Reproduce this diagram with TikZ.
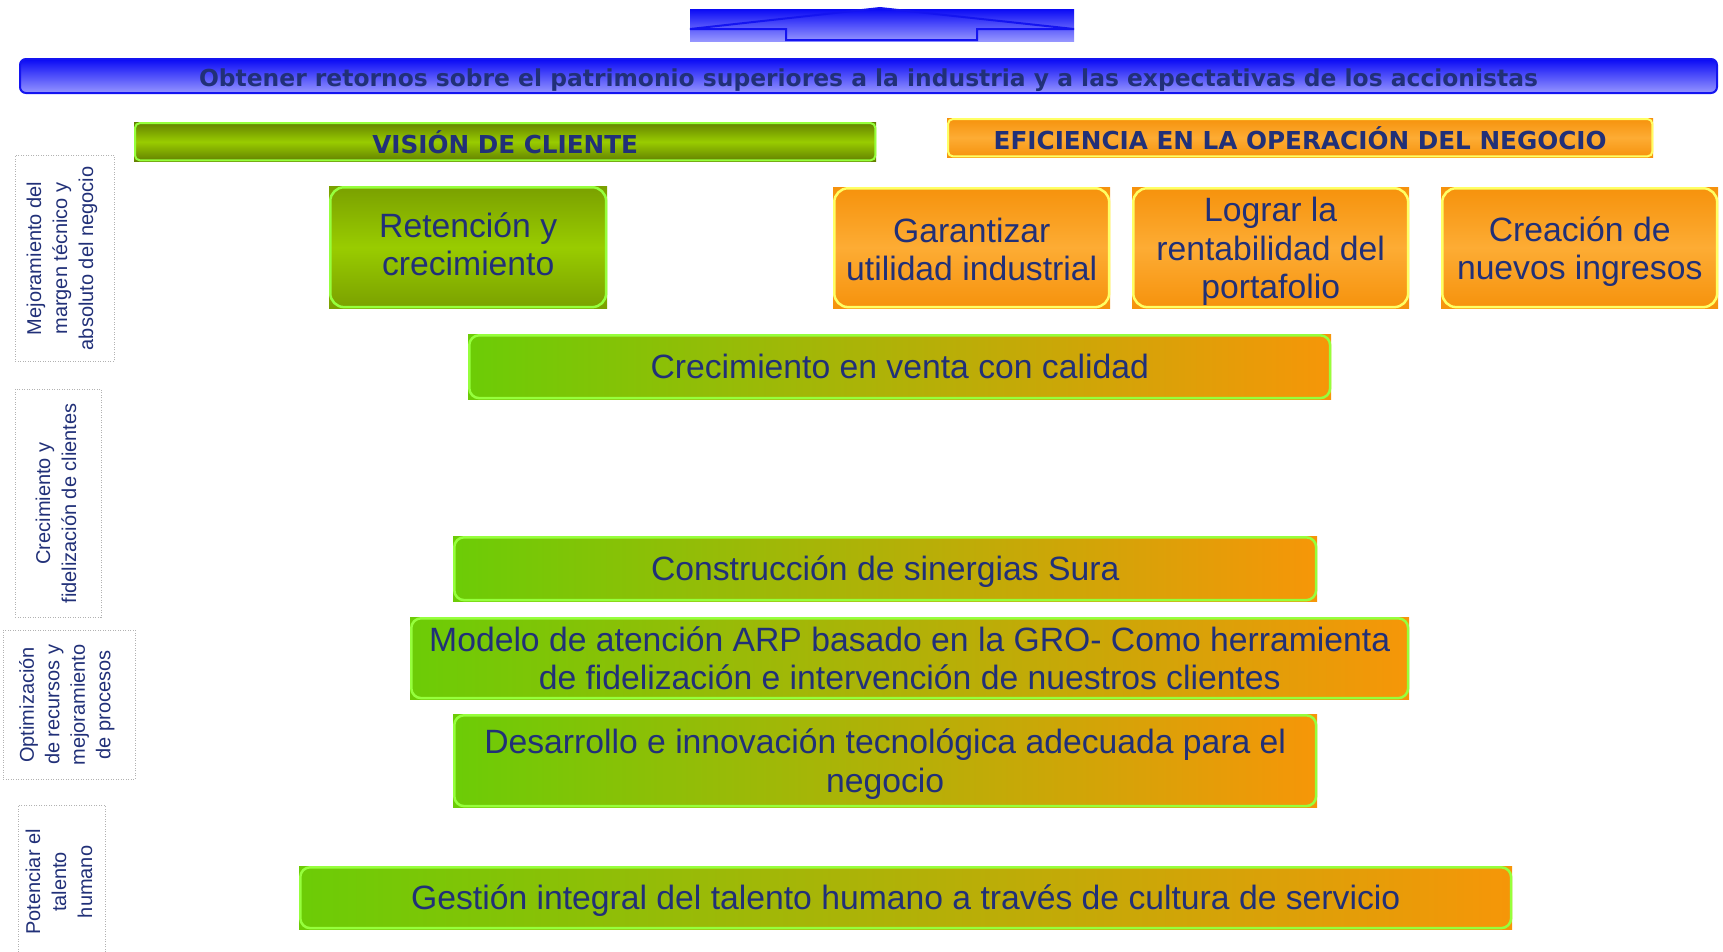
\documentclass[tikz,border=0pt]{standalone}
\usepackage{fontspec}
\setmainfont{Liberation Sans}
\newfontfamily\hdfont{DejaVu Sans}
\definecolor{navy}{RGB}{33,48,120}
\definecolor{gdark}{RGB}{122,160,0}
\definecolor{glight}{RGB}{153,204,0}
\definecolor{hgdark}{RGB}{98,128,0}
\definecolor{odark}{RGB}{246,146,12}
\definecolor{olight}{RGB}{253,172,52}
\definecolor{hl}{RGB}{108,204,6}
\definecolor{hr}{RGB}{246,150,8}
\definecolor{lgreen}{RGB}{150,255,60}
\definecolor{lyellow}{RGB}{255,255,100}
\definecolor{bdark}{RGB}{10,10,245}
\definecolor{blight}{RGB}{150,150,255}
\definecolor{bline}{RGB}{20,20,240}
\tikzset{
  box/.style={anchor=north west, inner sep=0pt},
  txt/.style={inner sep=0pt, align=center, text=navy,
    font=\fontsize{33.7}{38.5}\selectfont},
  gbox/.style={box, top color=gdark, bottom color=gdark, middle color=glight},
  obox/.style={box, top color=odark, bottom color=odark, middle color=olight},
  hbox/.style={box, left color=hl, right color=hr},
  gframe/.style={draw=lgreen, line width=2.5pt, rounded corners=14pt},
  oframe/.style={draw=lyellow, line width=2.5pt, rounded corners=14pt},
  hframe/.style={draw=lgreen, line width=2.5pt, rounded corners=10pt},
  lab/.style={draw=gray!60, line width=0.9pt, dash pattern=on 1pt off 1.5pt,
    inner sep=0pt},
  labtxt/.style={inner sep=0pt, align=center, text=navy, rotate=90,
    font=\fontsize{20}{26}\selectfont},
  headtxt/.style={inner sep=0pt, text=navy, font=\hdfont\bfseries\fontsize{24.7}{28}\selectfont}
}
\begin{document}
\begin{tikzpicture}[x=1pt,y=-1pt]
\useasboundingbox (0,0) rectangle (1723,951);

% top arrow
\shade[top color=bdark, bottom color=blight] (690,9) rectangle (1074,41);
\draw[bline, line width=2pt, line join=miter]
  (690,29) -- (786,29) -- (786,40) -- (977,40) -- (977,29) -- (1074,29) -- (880,8) -- cycle;

% banner
\node[anchor=north west, minimum width=1697, minimum height=34, inner sep=0pt,
  top color=bdark, bottom color=blight, draw=bline, line width=2pt, rounded corners=6pt] (ban) at (19,58) {};
\node[headtxt, font=\hdfont\bfseries\fontsize{23.4}{28}\selectfont] (bant) at ([yshift=-4]ban.center)
  {Obtener retornos sobre el patrimonio superiores a la industria y a las expectativas de los accionistas};

% headers
\node[anchor=north west, minimum width=742, minimum height=39, inner sep=0pt,
  top color=hgdark, bottom color=hgdark, middle color=glight] (vis) at (134,122) {};
\draw[draw=lgreen, line width=2pt, rounded corners=5pt]
  ([shift={(1,1)}]vis.north west) rectangle ([shift={(-1,-1)}]vis.south east);
\node[headtxt] (vist) at ([yshift=-1]vis.center) {VISIÓN DE CLIENTE};
\node[anchor=north west, minimum width=706, minimum height=39, inner sep=0pt,
  top color=odark, bottom color=odark, middle color=olight] (efi) at (947,118) {};
\draw[draw=lyellow, line width=2pt, rounded corners=5pt]
  ([shift={(1,1)}]efi.north west) rectangle ([shift={(-1,-1)}]efi.south east);
\node[headtxt] (efit) at ([yshift=-1]efi.center) {EFICIENCIA EN LA OPERACIÓN DEL NEGOCIO};

% top boxes
\node[gbox, minimum width=278, minimum height=122] (ret) at (329,186) {};
\node[obox, minimum width=277, minimum height=121] (gar) at (833,187) {};
\node[obox, minimum width=277, minimum height=121] (log) at (1132,187) {};
\node[obox, minimum width=277, minimum height=121] (cre) at (1441,187) {};
\draw[gframe] ([shift={(1.25,1.25)}]ret.north west) rectangle ([shift={(-1.25,-1.25)}]ret.south east);
\foreach \n in {gar,log,cre}
  \draw[oframe] ([shift={(1.25,1.25)}]\n.north west) rectangle ([shift={(-1.25,-1.25)}]\n.south east);
\node[txt] (rett) at ([yshift=3]ret.center) {Retención y\\crecimiento};
\node[txt] (gart) at ([yshift=-1.5]gar.center) {Garantizar\\utilidad industrial};
\node[txt] (logt) at ([yshift=-4]log.center) {Lograr la\\rentabilidad del\\portafolio};
\node[txt] (cret) at ([yshift=-4]cre.center) {Creación de\\nuevos ingresos};

% horizontal boxes
\node[hbox, minimum width=863, minimum height=65] (cv) at (468,334) {};
\node[hbox, minimum width=864, minimum height=65] (cs) at (453,536) {};
\node[hbox, minimum width=999, minimum height=82] (ma) at (410,617) {};
\node[hbox, minimum width=864, minimum height=93] (di) at (453,714) {};
\node[hbox, minimum width=1213, minimum height=63] (gi) at (299,866) {};
\foreach \n in {cv,cs,ma,di,gi}
  \draw[hframe] ([shift={(1.25,1.25)}]\n.north west) rectangle ([shift={(-1.25,-1.25)}]\n.south east);
\node[txt] (cvt) at (cv.center) {Crecimiento en venta con calidad};
\node[txt] (cst) at ([yshift=-3.3]cs.center) {Construcción de sinergias Sura};
\node[txt] (mat) at (ma.center)
  {Modelo de atención ARP basado en la GRO- Como herramienta\\de fidelización e intervención de nuestros clientes};
\node[txt] (dit) at ([yshift=-3.5]di.center)
  {Desarrollo e innovación tecnológica adecuada para el\\negocio};
\node[txt] (git) at ([yshift=-3.3]gi.center)
  {Gestión integral del talento humano a través de cultura de servicio};

% left labels
\node[lab, anchor=north west, minimum width=99, minimum height=206] (l1) at (15,155) {};
\node[labtxt] (l1t) at ([xshift=-3]l1.center) {Mejoramiento del\\margen técnico y\\absoluto del negocio};
\node[lab, anchor=north west, minimum width=86, minimum height=228] (l2) at (15,389) {};
\node[labtxt] (l2t) at ([xshift=-2.5]l2.center) {Crecimiento y\\fidelización de clientes};
\node[lab, anchor=north west, minimum width=132, minimum height=149] (l3) at (3,630) {};
\node[labtxt, font=\fontsize{20}{25.5}\selectfont] (l3t) at ([xshift=-2.5]l3.center)
  {Optimización\\de recursos y\\mejoramiento\\de procesos};
\node[lab, anchor=north west, minimum width=87, minimum height=160] (l4) at (18,805) {};
\node[labtxt] (l4t) at ([shift={(-3,-3.5)}]l4.center) {Potenciar el\\talento\\humano};
\end{tikzpicture}
\end{document}
